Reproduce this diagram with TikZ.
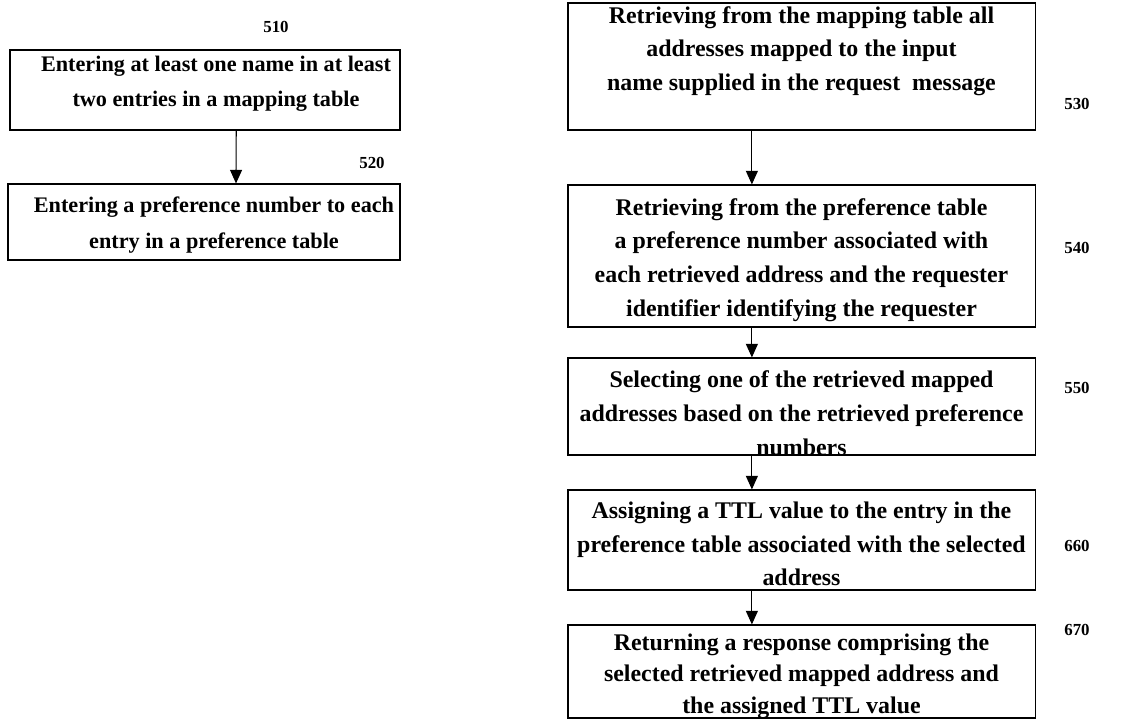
\documentclass[tikz,border=0pt]{standalone}
\usepackage{fontspec}
\setmainfont{Liberation Serif}
\usetikzlibrary{arrows.meta}

\tikzset{
  stepbox/.style={draw, inner sep=0pt},
  steptext/.style={align=center, font=\fontsize{17}{24}\selectfont\bfseries},
  leftstep/.style={align=center, font=\fontsize{15.8}{25}\selectfont\bfseries},
  steplabel/.style={font=\fontsize{12}{14}\selectfont\bfseries}
}

\begin{document}
\begin{tikzpicture}[x=0.025cm, y=-0.025cm, >={Triangle[length=0.34cm, width=0.3cm]}, line width=0.8pt]
      \useasboundingbox (0,0) rectangle (1140,719);

      % Left column: boxes
        \node[stepbox, minimum width=9.75cm, minimum height=2cm] (s510) at (205, 90) {};
        \node[stepbox, minimum width=9.8cm, minimum height=1.9cm] (s520) at (204, 222) {};

      % Right column: boxes
        \node[stepbox, minimum width=11.675cm, minimum height=3.175cm] (s530) at (801.5, 66.5) {};
        \node[stepbox, minimum width=11.675cm, minimum height=3.55cm] (s540) at (801.5, 256) {};
        \node[stepbox, minimum width=11.675cm, minimum height=2.425cm] (s550) at (801.5, 406.5) {};
        \node[stepbox, minimum width=11.675cm, minimum height=2.5cm] (s660) at (801.5, 540) {};
        \node[stepbox, minimum width=11.675cm, minimum height=2.325cm] (s670) at (801.5, 671.5) {};

      % Texts
        \node[leftstep] (t510) at (216, 84) {Entering at least one name in at least\\two entries in a mapping table};
        \node[leftstep] (t520) at (214, 225) {Entering a preference number to each\\entry in a preference table};
        \node[steptext] (t530) at (801.5, 51) {Retrieving from the mapping table all\\addresses mapped to the input\\name supplied in the request\ \ message};
        \node[steptext] (t540) at (801.5, 260) {Retrieving from the preference table\\a preference number associated with\\each retrieved address and the requester\\identifier identifying the requester};
        \node[steptext] (t550) at (801.5, 413) {Selecting one of the retrieved mapped\\addresses based on the retrieved preference\\numbers};
        \node[steptext] (t660) at (801.5, 544) {Assigning a TTL value to the entry in the\\preference table associated with the selected\\address};
        \node[steptext, font=\fontsize{17}{22.5}\selectfont\bfseries] (t670) at (801.5, 676) {Returning a response comprising the\\selected retrieved mapped address and\\the assigned TTL value};

      % Reference numbers
        \node[steplabel] (n510) at (276, 27) {510};
        \node[steplabel] (n520) at (372, 163) {520};
        \node[steplabel] (n530) at (1077, 104) {530};
        \node[steplabel] (n540) at (1077, 248) {540};
        \node[steplabel] (n550) at (1077, 388) {550};
        \node[steplabel] (n660) at (1077, 546) {660};
        \node[steplabel] (n670) at (1077, 630) {670};

      % Arrows
        \draw [->] ([xshift=0.78cm]s510.south) -- ([xshift=0.8cm]s520.north);
        \draw [->] ([xshift=-1.24cm]s530.south) -- ([xshift=-1.24cm]s540.north);
        \draw [->] ([xshift=-1.24cm]s540.south) -- ([xshift=-1.24cm]s550.north);
        \draw [->] ([xshift=-1.24cm]s550.south) -- ([xshift=-1.24cm]s660.north);
        \draw [->] ([xshift=-1.24cm]s660.south) -- ([xshift=-1.24cm]s670.north);

    \end{tikzpicture}
\end{document}
